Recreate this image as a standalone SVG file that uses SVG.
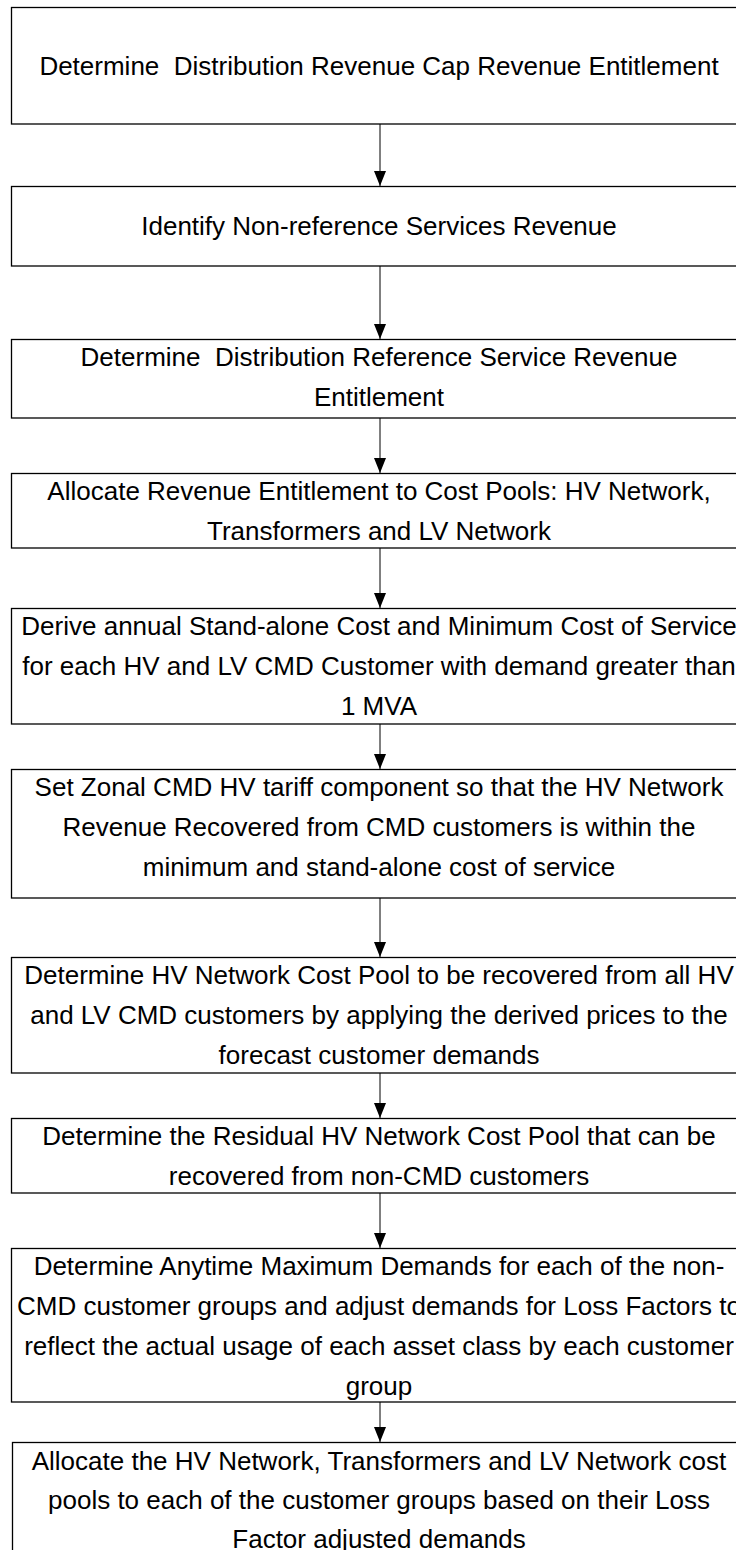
<svg xmlns="http://www.w3.org/2000/svg" width="736" height="1550" viewBox="0 0 736 1550">
<defs>
<style>
.box{fill:#fff;stroke:#000;stroke-width:1.3}
.t{font-family:"Liberation Sans",Arial,sans-serif;font-size:26px;fill:#000;text-anchor:middle;white-space:pre}
.c{stroke:#000;stroke-width:1;fill:none}
</style>
<marker id="ah" markerUnits="userSpaceOnUse" markerWidth="15" markerHeight="12" refX="15" refY="6" orient="auto" viewBox="0 0 15 12">
<path d="M0,0 L15,6 L0,12 Z" fill="#000"/>
</marker>
</defs>
<rect width="736" height="1550" fill="#fff"/>
<g id="connectors">
<line class="c" x1="380" y1="124" x2="380" y2="186" marker-end="url(#ah)"/>
<line class="c" x1="380" y1="266" x2="380" y2="339" marker-end="url(#ah)"/>
<line class="c" x1="380" y1="418" x2="380" y2="473" marker-end="url(#ah)"/>
<line class="c" x1="380" y1="548" x2="380" y2="608" marker-end="url(#ah)"/>
<line class="c" x1="380" y1="724" x2="380" y2="769" marker-end="url(#ah)"/>
<line class="c" x1="380" y1="898" x2="380" y2="957" marker-end="url(#ah)"/>
<line class="c" x1="380" y1="1073" x2="380" y2="1118" marker-end="url(#ah)"/>
<line class="c" x1="380" y1="1193" x2="380" y2="1248" marker-end="url(#ah)"/>
<line class="c" x1="380" y1="1402" x2="380" y2="1442" marker-end="url(#ah)"/>
</g>
<g id="n1"><rect class="box" x="11.5" y="7.5" width="740" height="116.5"/>
<text class="t" x="379" y="75" xml:space="preserve">Determine  Distribution Revenue Cap Revenue Entitlement</text></g>
<g id="n2"><rect class="box" x="11.5" y="186.5" width="740" height="79.5"/>
<text class="t" x="379" y="235">Identify Non-reference Services Revenue</text></g>
<g id="n3"><rect class="box" x="11.5" y="339.5" width="740" height="78.5"/>
<text class="t" x="379" y="366" xml:space="preserve">Determine  Distribution Reference Service Revenue</text>
<text class="t" x="379" y="406">Entitlement</text></g>
<g id="n4"><rect class="box" x="11.5" y="473.5" width="740" height="74.5"/>
<text class="t" x="379" y="500">Allocate Revenue Entitlement to Cost Pools: HV Network,</text>
<text class="t" x="379" y="540">Transformers and LV Network</text></g>
<g id="n5"><rect class="box" x="11.5" y="608.5" width="740" height="115.5"/>
<text class="t" x="379" y="635">Derive annual Stand-alone Cost and Minimum Cost of Service</text>
<text class="t" x="379" y="675">for each HV and LV CMD Customer with demand greater than</text>
<text class="t" x="379" y="715">1 MVA</text></g>
<g id="n6"><rect class="box" x="11.5" y="769.5" width="740" height="128.5"/>
<text class="t" x="379" y="796">Set Zonal CMD HV tariff component so that the HV Network</text>
<text class="t" x="379" y="836">Revenue Recovered from CMD customers is within the</text>
<text class="t" x="379" y="876">minimum and stand-alone cost of service</text></g>
<g id="n7"><rect class="box" x="11.5" y="957.5" width="740" height="115.5"/>
<text class="t" x="379" y="984">Determine HV Network Cost Pool to be recovered from all HV</text>
<text class="t" x="379" y="1024">and LV CMD customers by applying the derived prices to the</text>
<text class="t" x="379" y="1064">forecast customer demands</text></g>
<g id="n8"><rect class="box" x="11.5" y="1118.5" width="740" height="74.5"/>
<text class="t" x="379" y="1145">Determine the Residual HV Network Cost Pool that can be</text>
<text class="t" x="379" y="1185">recovered from non-CMD customers</text></g>
<g id="n9"><rect class="box" x="11.5" y="1248.5" width="740" height="153.5"/>
<text class="t" x="379" y="1275">Determine Anytime Maximum Demands for each of the non-</text>
<text class="t" x="379" y="1315">CMD customer groups and adjust demands for Loss Factors to</text>
<text class="t" x="379" y="1355">reflect the actual usage of each asset class by each customer</text>
<text class="t" x="379" y="1395">group</text></g>
<g id="n10"><rect class="box" x="12.5" y="1442.5" width="740" height="140"/>
<text class="t" x="379" y="1470">Allocate the HV Network, Transformers and LV Network cost</text>
<text class="t" x="379" y="1509">pools to each of the customer groups based on their Loss</text>
<text class="t" x="379" y="1548">Factor adjusted demands</text></g>
</svg>
